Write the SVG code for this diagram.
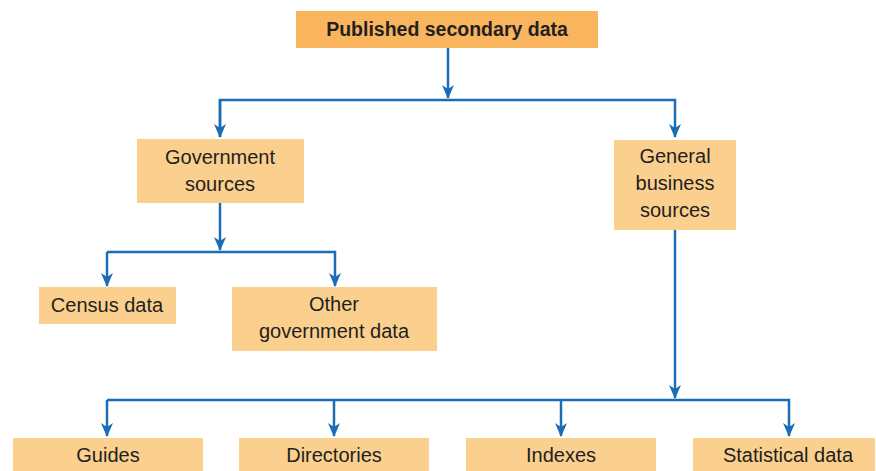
<svg xmlns="http://www.w3.org/2000/svg" width="876" height="471" viewBox="0 0 876 471">
<style>
.box{fill:#FBCF8E}
.top{fill:#F9B45E}
.t{font-family:"Liberation Sans",Arial,sans-serif;font-size:20px;fill:#231F20;text-anchor:middle}
.b{font-weight:bold;font-size:19.5px}
.c{fill:none;stroke:#1A6DB5;stroke-width:2.5}
</style>
<defs>
<marker id="ah" viewBox="0 0 14 12" refX="13" refY="6" markerWidth="14" markerHeight="12" markerUnits="userSpaceOnUse" orient="auto">
<path d="M0,0 L14,6 L0,12 L4,6 Z" fill="#1A6DB5"/>
</marker>
</defs>
<rect width="876" height="471" fill="#fff"/>
<g id="connectors">
<path class="c" d="M448,48 V98" marker-end="url(#ah)"/>
<path class="c" d="M220,137 V100 H675 V137" marker-end="url(#ah)"/>
<path class="c" d="M220,100 V137" marker-end="url(#ah)"/>
<path class="c" d="M220,203 V250" marker-end="url(#ah)"/>
<path class="c" d="M107,252 H335 V286" marker-end="url(#ah)"/>
<path class="c" d="M107,252 V286" marker-end="url(#ah)"/>
<path class="c" d="M675,230 V398" marker-end="url(#ah)"/>
<path class="c" d="M107,400 H789 V436" marker-end="url(#ah)"/>
<path class="c" d="M107,400 V436" marker-end="url(#ah)"/>
<path class="c" d="M334,400 V436" marker-end="url(#ah)"/>
<path class="c" d="M561,400 V436" marker-end="url(#ah)"/>
</g>
<g id="published">
<rect class="top" x="296" y="11" width="302" height="37"/>
<text class="t b" x="447" y="36">Published secondary data</text>
</g>
<g id="government">
<rect class="box" x="137" y="139" width="167" height="64"/>
<text class="t" x="220" y="164">Government</text>
<text class="t" x="220" y="191">sources</text>
</g>
<g id="general">
<rect class="box" x="614" y="140" width="122" height="90"/>
<text class="t" x="675" y="163">General</text>
<text class="t" x="675" y="190">business</text>
<text class="t" x="675" y="217">sources</text>
</g>
<g id="census">
<rect class="box" x="39" y="287" width="137" height="37"/>
<text class="t" x="107" y="312">Census data</text>
</g>
<g id="othergov">
<rect class="box" x="232" y="287" width="205" height="64"/>
<text class="t" x="334" y="311">Other</text>
<text class="t" x="334" y="338">government data</text>
</g>
<g id="guides">
<rect class="box" x="13" y="438" width="190" height="33"/>
<text class="t" x="108" y="462">Guides</text>
</g>
<g id="directories">
<rect class="box" x="239" y="438" width="190" height="33"/>
<text class="t" x="334" y="462">Directories</text>
</g>
<g id="indexes">
<rect class="box" x="466" y="438" width="190" height="33"/>
<text class="t" x="561" y="462">Indexes</text>
</g>
<g id="statistical">
<rect class="box" x="693" y="438" width="182" height="33"/>
<text class="t" x="788" y="462">Statistical data</text>
</g>
</svg>
